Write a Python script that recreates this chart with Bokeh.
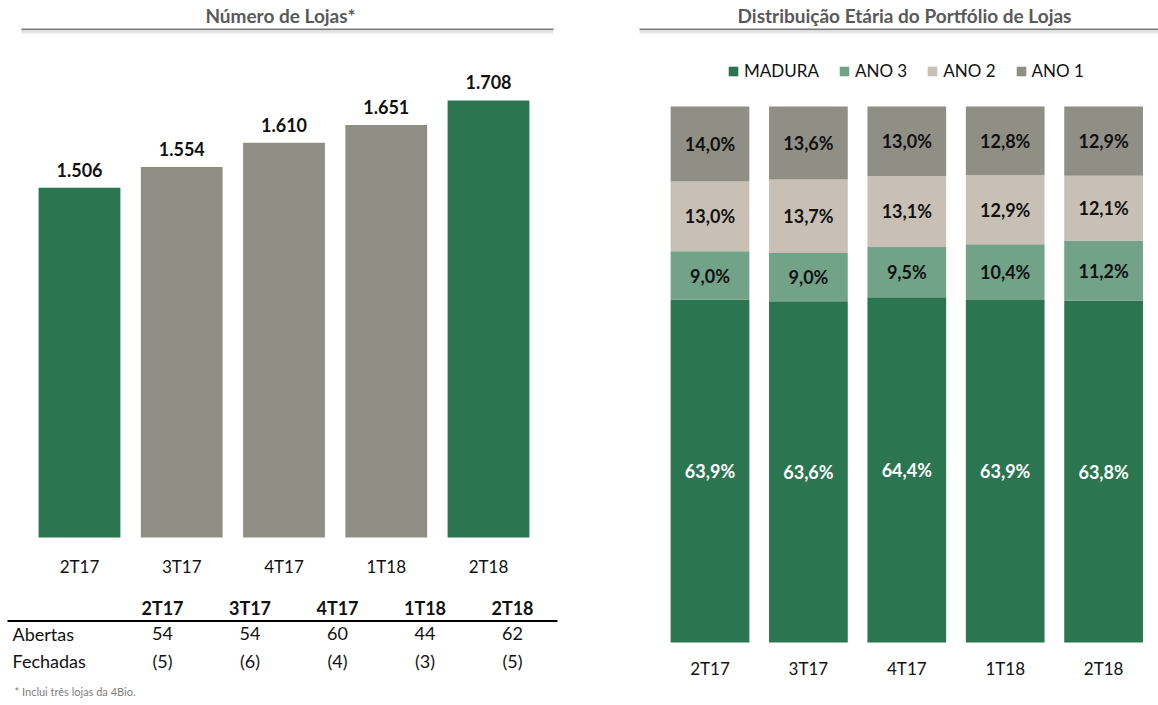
from bokeh.plotting import figure
from bokeh.layouts import row
from bokeh.models import ColumnDataSource, Range1d, Legend, LegendItem
from bokeh.core.properties import value
from bokeh.embed import file_html
from bokeh.resources import INLINE

# ---------------- data ----------------
quarters = ["2T17", "3T17", "4T17", "1T18", "2T18"]
num_lojas = [1506, 1554, 1610, 1651, 1708]
highlight = [True, False, False, False, True]
abertas = [54, 54, 60, 44, 62]
fechadas = [5, 6, 4, 3, 5]
series_names = ["MADURA", "ANO 3", "ANO 2", "ANO 1"]
madura = [63.9, 63.6, 64.4, 63.9, 63.8]
ano3 = [9.0, 9.0, 9.5, 10.4, 11.2]
ano2 = [13.0, 13.7, 13.1, 12.9, 12.1]
ano1 = [14.0, 13.6, 13.0, 12.8, 12.9]
row_labels = ["Abertas", "Fechadas"]
title_left = "Número de Lojas*"
title_right = "Distribuição Etária do Portfólio de Lojas"
footnote = "* Inclui três lojas da 4Bio."

# ---------------- style / layout ----------------
FONT = "Lato"
GREEN = "#2B7550"
GRAY = "#8F8F86"
BEIGE = "#C8C0B5"
LGREEN = "#72A389"
TXT = "#111111"
TITLE_C = "#595959"
H = 705
LW, RW = 608, 550
Y0 = 695                      # axis floor of the left chart
K = 0.4314                    # px per store (left chart)
BASE_L = 537                  # pixel row of left chart floor
X0_L, DX_L = 79, 102.25       # pixel centre of first bar, spacing (left)
X0_R, DX_R = 101.5, 98.4      # same for right figure (relative to its own left edge)
BASE_R, TOP_R = 642, 106      # pixel rows for 0 % and 100 % (right)
idx = list(range(len(quarters)))


def lx(px):
    return (px - X0_L) / DX_L


def ly(py):
    return Y0 + (BASE_L - py) / K


def rx(px):
    return (px - X0_R) / DX_R


def ry(py):
    return (BASE_R - py) / (BASE_R - TOP_R)


def clean(p):
    p.grid.visible = False
    p.axis.visible = False
    p.outline_line_color = None
    p.background_fill_color = "white"
    p.border_fill_color = "white"


def header(p, fx, fy, x_center, x0, x1, text):
    p.text(x=[fx(x_center)], y=[fy(15)], text=[text],
           text_font=value(FONT), text_font_style="bold", text_font_size="19px",
           text_color=TITLE_C, text_align="center", text_baseline="middle")
    for dy, col, w in [(4.5, "#f4f4f4", 2), (3.0, "#e6e6e6", 1.5), (1.6, "#d2d2d2", 1.2), (0, "#7a7a7a", 1.6)]:
        p.segment(x0=[fx(x0)], x1=[fx(x1)], y0=[fy(28.8 + dy)], y1=[fy(28.8 + dy)],
                  line_color=col, line_width=w)


# ---------------- left panel ----------------
lsrc = ColumnDataSource(dict(
    x=idx, q=quarters, n=num_lojas,
    color=[GREEN if h else GRAY for h in highlight],
    lbl=[f"{v:,}".replace(",", ".") for v in num_lojas],
))
pl = figure(width=LW, height=H, x_range=Range1d(lx(0), lx(LW)), y_range=Range1d(ly(H), ly(0)),
            output_backend="svg", toolbar_location=None, min_border=0)
clean(pl)
header(pl, lx, ly, 280, 21, 553, title_left)
pl.vbar(x="x", top="n", bottom=Y0, width=0.8, fill_color="color", line_color=None, source=lsrc)
pl.text(x="x", y="n", text="lbl", source=lsrc, y_offset=-18,
        text_font=value(FONT), text_font_style="bold", text_font_size="18px",
        text_color=TXT, text_align="center", text_baseline="middle")
pl.text(x="x", y=Y0, text="q", source=lsrc, y_offset=29,
        text_font=value(FONT), text_font_size="17px",
        text_color=TXT, text_align="center", text_baseline="middle")

# table under the chart
CX, CW = 162, 87.5
tcols = [lx(CX + CW * i) for i in idx]
common = dict(text_font=value(FONT), text_font_size="18px", text_color=TXT, text_baseline="middle")
pl.text(x=tcols, y=[ly(607)] * 5, text=quarters, text_align="center", text_font_style="bold", **common)
pl.segment(x0=[lx(7)], x1=[lx(557)], y0=[ly(620.5)], y1=[ly(620.5)], line_color="black", line_width=2)
pl.text(x=tcols, y=[ly(633)] * 5, text=[str(v) for v in abertas], text_align="center", **common)
pl.text(x=tcols, y=[ly(660)] * 5, text=[f"({v})" for v in fechadas], text_align="center", **common)
pl.text(x=[lx(12)] * 2, y=[ly(633), ly(660)], text=row_labels, text_align="left", **common)
pl.text(x=[lx(14)], y=[ly(691)], text=[footnote], text_align="left",
        text_font=value(FONT), text_font_size="11px", text_color="#7f7f7f", text_baseline="middle")

# ---------------- right panel ----------------
stack_vals = [madura, ano3, ano2, ano1]
keys = ["madura", "ano3", "ano2", "ano1"]
colors = [GREEN, LGREEN, BEIGE, GRAY]
totals = [sum(v[i] for v in stack_vals) for i in idx]
rdata = dict(x=idx, q=quarters)
cum = [0.0] * len(quarters)
for k, vals in zip(keys, stack_vals):
    frac = [vals[i] / totals[i] for i in idx]
    rdata[k] = frac
    rdata[k + "_mid"] = [cum[i] + frac[i] / 2 for i in idx]
    rdata[k + "_lbl"] = [f"{v:.1f}".replace(".", ",") + "%" for v in vals]
    cum = [cum[i] + frac[i] for i in idx]
rsrc = ColumnDataSource(rdata)

pr = figure(width=RW, height=H, x_range=Range1d(rx(0), rx(RW)), y_range=Range1d(ry(H), ry(0)),
            output_backend="svg", toolbar_location=None, min_border=0)
clean(pr)
header(pr, rx, ry, 904 - LW, 639 - LW, RW, title_right)
rends = pr.vbar_stack(keys, x="x", width=0.8, color=colors, line_color=None, source=rsrc)
for k in keys:
    pr.text(x="x", y=k + "_mid", text=k + "_lbl", source=rsrc,
            text_font=value(FONT), text_font_style="bold", text_font_size="18px",
            text_color="white" if k == "madura" else TXT,
            text_align="center", text_baseline="middle")
pr.text(x="x", y=0, text="q", source=rsrc, y_offset=26,
        text_font=value(FONT), text_font_size="17px",
        text_color=TXT, text_align="center", text_baseline="middle")

legend = Legend(items=[LegendItem(label=n, renderers=[r]) for n, r in zip(series_names, rends)],
                orientation="horizontal", location=(727 - LW, H - 81), padding=0, margin=0,
                spacing=19, label_standoff=5, glyph_width=12, glyph_height=12,
                label_text_font=FONT, label_text_font_size="17px", label_text_color=TXT,
                border_line_color=None, background_fill_alpha=0)
pr.add_layout(legend)

layout = row(pl, pr)
open("out.html", "w").write(file_html(layout, INLINE))
